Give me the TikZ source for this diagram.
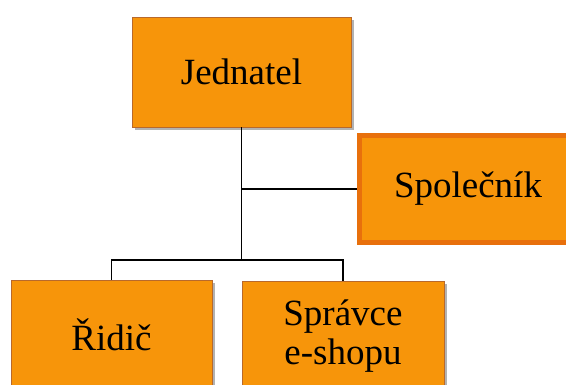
\documentclass[tikz,border=0pt]{standalone}
\usepackage{fontspec}
\setmainfont{Liberation Serif}
\usetikzlibrary{shadows}
\definecolor{boxfill}{HTML}{F7950A}
\definecolor{boxedge}{HTML}{B8692C}
\definecolor{boxedgethick}{HTML}{E8700C}
\tikzset{
  orgbox/.style={draw=boxedge, line width=0.8pt, fill=boxfill, rectangle, inner sep=0pt,
    align=center, font=\fontsize{37}{39}\selectfont,
    drop shadow={shadow xshift=3pt, shadow yshift=-3pt, opacity=0.3, fill=black}},
  thickbox/.style={orgbox, draw=boxedgethick, line width=5pt},
  conn/.style={draw=black, line width=1.5pt}
}
\begin{document}
\begin{tikzpicture}[x=1pt,y=-1pt]
\useasboundingbox (0,0) rectangle (566,385);
\node[orgbox, minimum width=219pt, minimum height=110pt] (J) at (241.5,72) {Jednatel};
\node[thickbox, minimum width=217pt, minimum height=107pt] (S) at (468,189) {Společník};
\node[orgbox, minimum width=201pt, minimum height=110pt] (R) at (111.5,335) {Řidič};
\node[orgbox, minimum width=202pt, minimum height=110pt] (E) at (343,336) {Správce\\e-shopu};
\coordinate (j) at (J.south |- 0,260);
\draw[conn] (J.south) -- (j);
\draw[conn] (J.south |- S.west) -- (S.west);
\draw[conn] (R.north) |- (j) -| (E.north);
\end{tikzpicture}
\end{document}
